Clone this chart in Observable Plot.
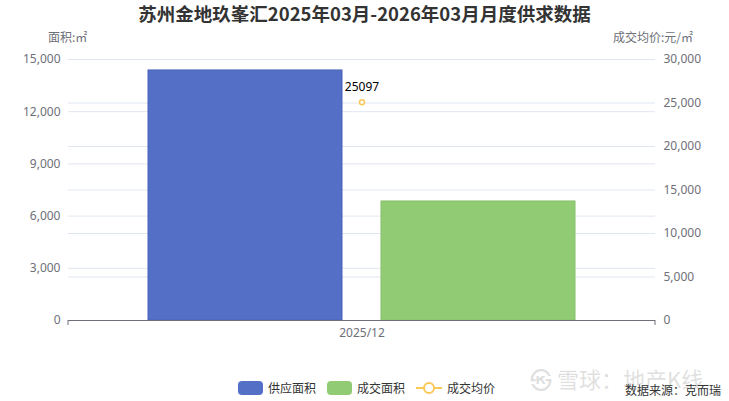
<!DOCTYPE html>
<html>
<head>
<meta charset="utf-8">
<script src="https://cdn.jsdelivr.net/npm/d3@7"></script>
<script src="https://cdn.jsdelivr.net/npm/@observablehq/plot@0.6"></script>
<style>
  html, body { margin: 0; padding: 0; background: #fff; }
  body { font-family: "Noto Sans CJK SC", "Noto Sans", sans-serif; }
  #wrap { position: relative; width: 729px; height: 401px; overflow: hidden; }
  .abs { position: absolute; white-space: nowrap; }
  #title { left: 0; width: 729px; top: 1px; line-height: 24px; text-align: center; font-size: 18.5px; font-weight: bold; color: #333; }
  .atitle { top: 28px; font-size: 12px; color: #6e7079; }
  #legend { top: 379px; left: 238px; font-size: 12px; color: #333; display: flex; align-items: center; }
  .sw { display: inline-block; width: 25px; height: 14px; border-radius: 4px; margin-right: 5px; }
  .item { display: flex; align-items: center; margin-right: 11px; }
  #src { top: 381px; left: 625px; font-size: 12px; color: #333; }
  #wm { top: 362px; left: 530px; font-size: 22px; color: #000; opacity: 0.12; }
</style>
</head>
<body>
<div id="wrap">
  <div id="title" class="abs">苏州金地玖峯汇2025年03月-2026年03月月度供求数据</div>
  <div class="abs atitle" style="left:48px;">面积:㎡</div>
  <div class="abs atitle" style="right:36px;">成交均价:元/㎡</div>
  <div id="chart" class="abs" style="left:0;top:0;"></div>
  <div id="wm" class="abs">㉿ 雪球：地产K线</div>
  <div id="legend" class="abs">
    <span class="item"><span class="sw" style="background:#5470c6"></span>供应面积</span>
    <span class="item"><span class="sw" style="background:#91cc75"></span>成交面积</span>
    <span class="item"><svg width="26" height="14" style="margin-right:5px"><line x1="0" y1="7" x2="26" y2="7" stroke="#fac858" stroke-width="2"/><circle cx="13" cy="7" r="5" fill="#fff" stroke="#fac858" stroke-width="2"/></svg>成交均价</span>
  </div>
  <div id="src" class="abs">数据来源：克而瑞</div>
</div>
<script>
const months = ["2025/12"];
const supplyArea = [14370];
const dealArea = [6840];
const dealPrice = [25097];
const seriesNames = ["供应面积", "成交面积"];
const seriesColors = ["#5470c6", "#91cc75"];
const leftTicks = [0, 3000, 6000, 9000, 12000, 15000];
const rightTicks = [0, 5000, 10000, 15000, 20000, 25000, 30000];
const leftMax = 15000, rightMax = 30000;
const k = rightMax / leftMax;

const bars = [];
months.forEach((m, i) => {
  bars.push({month: m, series: seriesNames[0], value: supplyArea[i]});
  bars.push({month: m, series: seriesNames[1], value: dealArea[i]});
});
const prices = months.map((m, i) => ({month: m, price: dealPrice[i]}));

const fmt = d3.format(",");
const chart = Plot.plot({
  width: 729,
  height: 345,
  marginTop: 59,
  marginBottom: 25,
  marginLeft: 68,
  marginRight: 74,
  style: {fontFamily: "'Noto Sans', 'Noto Sans CJK SC', sans-serif", fontSize: "12px", color: "#6e7079", background: "transparent"},
  fx: {domain: months, padding: 0, label: null},
  x: {domain: seriesNames, paddingInner: 0.167, paddingOuter: 0.34, axis: null},
  y: {domain: [0, leftMax], axis: null},
  color: {domain: seriesNames, range: seriesColors},
  marks: [
    Plot.gridY(leftTicks.slice(1), {stroke: "#e0e6f1", strokeOpacity: 1}),
    Plot.gridY(rightTicks.slice(1).map(v => v / k), {stroke: "#e0e6f1", strokeOpacity: 1}),
    Plot.axisY(leftTicks, {anchor: "left", tickSize: 0, tickPadding: 8, tickFormat: fmt, label: null, fill: "#6e7079", fontSize: 12}),
    Plot.axisY(rightTicks.map(v => v / k), {anchor: "right", tickSize: 0, tickPadding: 8, tickFormat: d => fmt(Math.round(d * k)), label: null, fill: "#6e7079", fontSize: 12}),
    Plot.axisFx({anchor: "bottom", tickSize: 0, tickPadding: 8, label: null, fill: "#6e7079", fontSize: 12}),
    Plot.barY(bars, {fx: "month", x: "series", y: "value", fill: "series", stroke: d => d.series === seriesNames[0] ? "#4863b8" : "#86c068", strokeWidth: 1}),
    Plot.ruleY([0], {stroke: "#6e7079", strokeWidth: 1}),
    Plot.dot(prices, {fx: "month", y: d => d.price / k, r: 2.5, fill: "#fff", stroke: "#fac858", strokeWidth: 1.5}),
    Plot.text(prices, {fx: "month", y: d => d.price / k, text: d => String(d.price), dy: -15, fill: "#000", fontSize: 12})
  ]
});
document.getElementById("chart").appendChild(chart);

// category boundary tick marks on the bottom axis (from the fx scale)
const fxs = chart.scale("fx");
const svg = d3.select(chart);
const x0 = fxs.apply(months[0]);
svg.append("g").selectAll("line").data([x0, x0 + fxs.bandwidth]).join("line")
  .attr("x1", d => d).attr("x2", d => d).attr("y1", 320).attr("y2", 325)
  .attr("stroke", "#6e7079");
</script>
</body>
</html>
